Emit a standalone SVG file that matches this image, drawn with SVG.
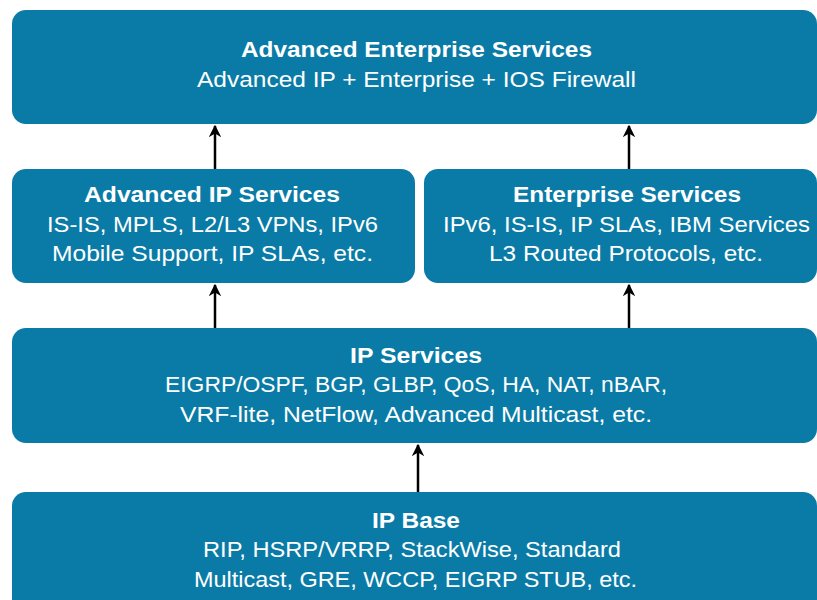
<svg xmlns="http://www.w3.org/2000/svg" width="817" height="600" viewBox="0 0 817 600">
<defs>
<style>
.box{fill:#0a7ba6}
.t{font-family:"Liberation Sans",Arial,sans-serif;font-size:21.5px;fill:#fff;text-anchor:middle}
.b{font-weight:bold;font-size:22.5px}
.c{stroke:#000;stroke-width:2.5;fill:none;marker-end:url(#ah)}
</style>
<marker id="ah" viewBox="0 0 10 10" refX="9" refY="5" markerWidth="5" markerHeight="5" orient="auto" markerUnits="strokeWidth">
<path d="M0,0 L10,5 L0,10 L3,5 Z" fill="#000"/>
</marker>
</defs>
<rect width="817" height="600" fill="#fff"/>
<g id="aes">
<rect class="box" x="12" y="10" width="805" height="114" rx="14"/>
<text class="t b" x="416.5" y="57" textLength="351" lengthAdjust="spacingAndGlyphs">Advanced Enterprise Services</text>
<text class="t" x="416.5" y="87" textLength="439" lengthAdjust="spacingAndGlyphs">Advanced IP + Enterprise + IOS Firewall</text>
</g>
<g id="aip">
<rect class="box" x="12" y="169" width="403" height="114" rx="14"/>
<text class="t b" x="212" y="202" textLength="256" lengthAdjust="spacingAndGlyphs">Advanced IP Services</text>
<text class="t" x="212.5" y="232" textLength="331" lengthAdjust="spacingAndGlyphs">IS-IS, MPLS, L2/L3 VPNs, IPv6</text>
<text class="t" x="212.5" y="261" textLength="321" lengthAdjust="spacingAndGlyphs">Mobile Support, IP SLAs, etc.</text>
</g>
<g id="ent">
<rect class="box" x="424" y="169" width="393" height="114" rx="14"/>
<text class="t b" x="627" y="202" textLength="228" lengthAdjust="spacingAndGlyphs">Enterprise Services</text>
<text class="t" x="626.5" y="232" textLength="367" lengthAdjust="spacingAndGlyphs">IPv6, IS-IS, IP SLAs, IBM Services</text>
<text class="t" x="626" y="261" textLength="274" lengthAdjust="spacingAndGlyphs">L3 Routed Protocols, etc.</text>
</g>
<g id="ips">
<rect class="box" x="12" y="328" width="805" height="115" rx="14"/>
<text class="t b" x="416" y="363" textLength="132" lengthAdjust="spacingAndGlyphs">IP Services</text>
<text class="t" x="416" y="392" textLength="502" lengthAdjust="spacingAndGlyphs">EIGRP/OSPF, BGP, GLBP, QoS, HA, NAT, nBAR,</text>
<text class="t" x="416" y="422" textLength="472" lengthAdjust="spacingAndGlyphs">VRF-lite, NetFlow, Advanced Multicast, etc.</text>
</g>
<g id="ipb">
<rect class="box" x="12" y="492" width="805" height="130" rx="14"/>
<text class="t b" x="416" y="528" textLength="88" lengthAdjust="spacingAndGlyphs">IP Base</text>
<text class="t" x="412" y="557" textLength="418" lengthAdjust="spacingAndGlyphs">RIP, HSRP/VRRP, StackWise, Standard</text>
<text class="t" x="415.5" y="587" textLength="443" lengthAdjust="spacingAndGlyphs">Multicast, GRE, WCCP, EIGRP STUB, etc.</text>
</g>
<g id="connectors">
<path class="c" d="M215,169 V126"/>
<path class="c" d="M629,169 V126"/>
<path class="c" d="M215,328 V285"/>
<path class="c" d="M629,328 V285"/>
<path class="c" d="M418,492 V445"/>
</g>
</svg>
